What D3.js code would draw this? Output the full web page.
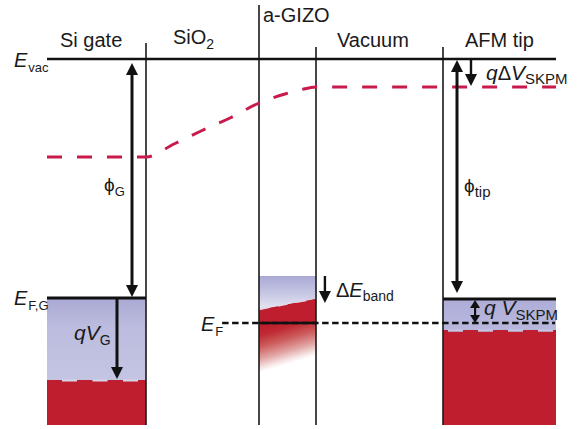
<!DOCTYPE html>
<html><head><meta charset="utf-8">
<script src="https://cdn.jsdelivr.net/npm/d3@7"></script>
<style>
body{margin:0;background:#fff}
svg{display:block}
text{font-family:"Liberation Sans",Arial,Helvetica,sans-serif;fill:#1a1a1a}
</style>
</head><body>
<svg id="c" width="581" height="429"></svg>
<script>
// ---- data (position units along the stack, energies in eV relative to E_vac) ----
const regions = ["Si gate", "SiO2", "a-GIZO", "Vacuum", "AFM tip"];
const boundaries = [0, 19.45, 41.65, 52.85, 77.8, 100];
const boundaryTops = [0.32, 1.08, 0.24, 0.24];
const E_vac = 0;
const E_FG = -4.78;
const E_SiFilled = -6.42;
const E_bottom = -7.32;
const E_F = -5.28;
const E_tip = -4.80;
const E_tipFilled = -5.42;
const E_bandTop = -4.34;
const E_gizoFilled = [-5.02, -4.80];
const E_gizoFade = [-6.20, -5.86];
const vacPos = [0, 19.45, 24.95, 30.26, 35.95, 41.26, 46.76, 49.71, 52.85, 100];
const vacE   = [-1.96, -1.96, -1.70, -1.44, -1.18, -0.90, -0.70, -0.62, -0.56, -0.56];
const efDashRange = [34.4, 99.8];
// arrows: [position, from E, to E, heads]
const arrows = [
  {name:"phiG",   pos:16.7,  e1:-0.08, e2:-4.76, start:true,  end:true},
  {name:"qVG",    pos:13.75, e1:-4.78, e2:-6.40, start:false, end:true},
  {name:"dEband", pos:54.6,  e1:-4.34, e2:-4.88, start:false, end:true},
  {name:"phiTip", pos:80.55, e1:-0.02, e2:-4.68, start:true,  end:true},
  {name:"qdV",    pos:83.3,  e1:-0.02, e2:-0.54, start:false, end:true},
  {name:"qVSKPM", pos:84.1,  e1:-4.82, e2:-5.28, start:true,  end:true}
];

// ---- scales ----
const svg = d3.select("#c");
const x = d3.scaleLinear().domain([0, 100]).range([47, 556]);
const y = d3.scaleLinear().domain([0, -7.32]).range([59, 425]);

const defs = svg.append("defs");
const lavG = defs.append("linearGradient").attr("id","lavG").attr("x1",0).attr("y1",0).attr("x2",0).attr("y2",1);
lavG.append("stop").attr("offset",0).attr("stop-color","#a9a9d3");
lavG.append("stop").attr("offset",0.35).attr("stop-color","#bcbcdf");
lavG.append("stop").attr("offset",1).attr("stop-color","#c4c4e3");
const lavA = defs.append("linearGradient").attr("id","lavA").attr("x1",0).attr("y1",0).attr("x2",0).attr("y2",1);
lavA.append("stop").attr("offset",0).attr("stop-color","#adadd8");
lavA.append("stop").attr("offset",1).attr("stop-color","#b8b8de");
const lavZ = defs.append("linearGradient").attr("id","lavZ").attr("x1",0).attr("y1",0).attr("x2",0).attr("y2",1);
lavZ.append("stop").attr("offset",0).attr("stop-color","#a9a9d6");
lavZ.append("stop").attr("offset",0.45).attr("stop-color","#c4c4e3");
lavZ.append("stop").attr("offset",1).attr("stop-color","#ececf4");

const RED = "#be1e2d";
const xm = (x(boundaries[2]) + x(boundaries[3])) / 2;
const yTopMid = (y(E_gizoFilled[0]) + y(E_gizoFilled[1])) / 2;
const yFadeMid = (y(E_gizoFade[0]) + y(E_gizoFade[1])) / 2;
const slope = (y(E_gizoFade[1]) - y(E_gizoFade[0])) / (x(boundaries[3]) - x(boundaries[2]));
const yEF = y(E_F);
const redG = defs.append("linearGradient").attr("id","redG").attr("gradientUnits","userSpaceOnUse")
  .attr("x1", xm - slope*(yEF - 4 - yTopMid) * 0).attr("y1", yEF - 4)
  .attr("x2", xm - slope*(yFadeMid - yEF + 4)).attr("y2", yFadeMid);
[[0,RED],[0.18,"#bf2a32"],[0.45,"#cd5f5f"],[0.72,"#e3a8a8"],[0.9,"#f6e4e4"],[1,"#ffffff"]]
  .forEach(s => redG.append("stop").attr("offset",s[0]).attr("stop-color",s[1]));

// ---- Si gate ----
svg.append("rect").attr("x",x(boundaries[0])).attr("width",x(boundaries[1])-x(boundaries[0]))
  .attr("y",y(E_FG)).attr("height",y(E_SiFilled)-y(E_FG)).attr("fill","url(#lavG)");
svg.append("rect").attr("x",x(boundaries[0])).attr("width",x(boundaries[1])-x(boundaries[0]))
  .attr("y",y(E_SiFilled)).attr("height",y(E_bottom)-y(E_SiFilled)).attr("fill",RED);
svg.append("line").attr("x1",x(boundaries[0])).attr("x2",x(boundaries[1]))
  .attr("y1",y(E_SiFilled)+0.5).attr("y2",y(E_SiFilled)+0.5)
  .attr("stroke","#d6d6ea").attr("stroke-width",2).attr("stroke-dasharray","15,15.5").attr("stroke-dashoffset",15.5);

// ---- AFM tip ----
svg.append("rect").attr("x",x(boundaries[4])).attr("width",x(boundaries[5])-x(boundaries[4]))
  .attr("y",y(E_tip)).attr("height",y(E_tipFilled)-y(E_tip)).attr("fill","url(#lavA)");
svg.append("rect").attr("x",x(boundaries[4])).attr("width",x(boundaries[5])-x(boundaries[4]))
  .attr("y",y(E_tipFilled)).attr("height",y(E_bottom)-y(E_tipFilled)).attr("fill",RED);
svg.append("line").attr("x1",x(boundaries[4])).attr("x2",x(boundaries[5]))
  .attr("y1",y(E_tipFilled)+0.5).attr("y2",y(E_tipFilled)+0.5)
  .attr("stroke","#c4c4e2").attr("stroke-width",2.5).attr("stroke-dasharray","15,15").attr("stroke-dashoffset",25);

// ---- a-GIZO ----
const gx0 = x(boundaries[2]), gx1 = x(boundaries[3]);
svg.append("rect").attr("x",gx0).attr("width",gx1-gx0)
  .attr("y",y(E_bandTop)).attr("height",y(E_gizoFilled[0])-y(E_bandTop)+2).attr("fill","url(#lavZ)");
svg.append("path")
  .attr("d", `M${gx0},${y(E_gizoFilled[0])} L${gx1},${y(E_gizoFilled[1])} L${gx1},${y(E_gizoFade[1])+4} L${gx0},${y(E_gizoFade[0])+4} Z`)
  .attr("fill","url(#redG)");
// solid red between top edge and E_F
svg.append("path")
  .attr("d", `M${gx0},${y(E_gizoFilled[0])} L${gx1},${y(E_gizoFilled[1])} L${gx1},${yEF} L${gx0},${yEF} Z`)
  .attr("fill",RED);
svg.append("line").attr("x1",gx0).attr("x2",gx1)
  .attr("y1",y(E_gizoFilled[0])-0.5).attr("y2",y(E_gizoFilled[1])-0.5)
  .attr("stroke","#e2d6e6").attr("stroke-width",1.5).attr("stroke-dasharray","10,9");

// ---- boundary lines ----
boundaries.slice(1,5).forEach((b,i) => {
  svg.append("line").attr("x1",x(b)).attr("x2",x(b))
    .attr("y1",y(boundaryTops[i])).attr("y2",y(E_bottom))
    .attr("stroke","#1a1a1a").attr("stroke-width",1.6);
});

// ---- levels ----
svg.append("line").attr("x1",x(0)).attr("x2",x(100)).attr("y1",y(E_vac)).attr("y2",y(E_vac))
  .attr("stroke","#111").attr("stroke-width",2.6);
svg.append("line").attr("x1",x(boundaries[0])).attr("x2",x(boundaries[1])).attr("y1",y(E_FG)).attr("y2",y(E_FG))
  .attr("stroke","#111").attr("stroke-width",3);
svg.append("line").attr("x1",x(boundaries[4])).attr("x2",x(boundaries[5])).attr("y1",y(E_tip)).attr("y2",y(E_tip))
  .attr("stroke","#111").attr("stroke-width",3);
svg.append("line").attr("x1",x(efDashRange[0])).attr("x2",x(efDashRange[1])).attr("y1",yEF).attr("y2",yEF)
  .attr("stroke","#111").attr("stroke-width",2.6).attr("stroke-dasharray","6.5,3.5");
svg.append("line").attr("x1",gx0).attr("x2",gx1).attr("y1",yEF).attr("y2",yEF)
  .attr("stroke","#111").attr("stroke-width",2.6);

// ---- vacuum level curve ----
const vline = d3.line().x(d => x(d[0])).y(d => y(d[1])).curve(d3.curveMonotoneX);
svg.append("path").attr("d", vline(vacPos.map((p,i)=>[p, vacE[i]])))
  .attr("fill","none").attr("stroke","#c81a4b").attr("stroke-width",3)
  .attr("stroke-dasharray","15,15");

// ---- arrows ----
function head(px, py, dir, w, l) {
  // dir: -1 pointing up, +1 pointing down; (px,py) is the tip
  return `M${px},${py} L${px-w/2},${py-dir*l} L${px+w/2},${py-dir*l} Z`;
}
arrows.forEach(a => {
  const px = x(a.pos), y1 = y(a.e1), y2 = y(a.e2);
  const small = a.name === "qVSKPM";
  const w = small ? 10 : 12, l = small ? 8 : 12, sw = small ? 2.2 : (a.name==="phiG"||a.name==="phiTip"||a.name==="qVG" ? 3 : 2.4);
  const s1 = a.start ? y1 + l - 1 : y1;
  const s2 = a.end ? y2 - l + 1 : y2;
  svg.append("line").attr("x1",px).attr("x2",px).attr("y1",s1).attr("y2",s2)
    .attr("stroke","#111").attr("stroke-width",sw);
  if (a.start) svg.append("path").attr("d",head(px,y1,-1,w,l)).attr("fill","#111");
  if (a.end) svg.append("path").attr("d",head(px,y2,1,w,l)).attr("fill","#111");
});

// ---- text ----
function label(px, py, parts, anchor) {
  const t = svg.append("text").attr("x",px).attr("y",py).attr("text-anchor",anchor||"start");
  parts.forEach(p => {
    const s = t.append("tspan").text(p.t).style("font-size",(p.size||20)+"px");
    if (p.it) s.style("font-style","italic");
    if (p.dy) s.attr("dy",p.dy);
    if (p.dx) s.attr("dx",p.dx);
  });
  return t;
}
// region labels
label(x(boundaries[0])+13, 47, [{t:regions[0]}]);
label(x(boundaries[1])+27, 44, [{t:"SiO"},{t:"2",size:14,dy:5}]);
label(x(boundaries[2])+4, 22, [{t:regions[2]}]);
label(x(boundaries[3])+21, 47, [{t:regions[3]}]);
label(x(boundaries[4])+22, 47, [{t:regions[4]}]);
// level labels
label(14, 67, [{t:"E",it:true,size:20},{t:"vac",size:13,dy:5,dx:1}]);
label(14, 305, [{t:"E",it:true,size:20},{t:"F,G",size:13,dy:5,dx:1}]);
label(201, 331, [{t:"E",it:true,size:20},{t:"F",size:13,dy:5,dx:1}]);
// arrow labels
label(104, 191, [{t:"\u03D5",size:19},{t:"G",size:13,dy:5}]);
label(74, 340, [{t:"qV",it:true,size:21},{t:"G",size:14,dy:5}]);
label(336, 297, [{t:"\u0394",size:20},{t:"E",it:true,size:20},{t:"band",size:14,dy:4}]);
label(464, 192, [{t:"\u03D5",size:19},{t:"tip",size:15,dy:5}]);
label(486, 80, [{t:"q",it:true,size:21},{t:"\u0394",size:20},{t:"V",it:true,size:21},{t:"SKPM",size:15,dy:4}]);
label(484, 315, [{t:"q ",it:true,size:21},{t:"V",it:true,size:21},{t:"SKPM",size:15,dy:5}]);
</script>
</body></html>
